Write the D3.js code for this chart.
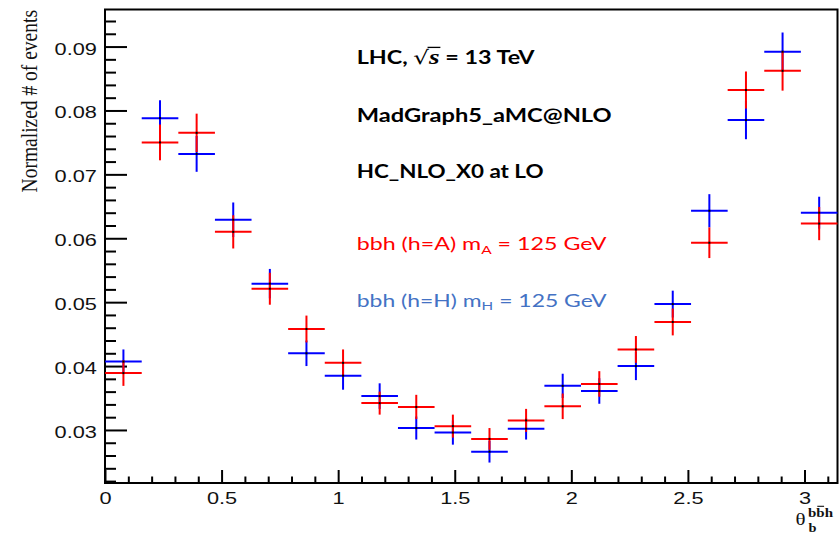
<!DOCTYPE html>
<html><head><meta charset="utf-8">
<script src="https://cdn.jsdelivr.net/npm/d3@7"></script>
<style>
  body { margin: 0; background: #fff; }
  svg { display: block; }
</style>
</head><body>
<svg id="chart" width="839" height="534"></svg>
<script>
// Bin centres of the opening angle theta_b^{bb̄h}: 20 equal bins over [0, π]
const thetaCenters = [0.079, 0.236, 0.393, 0.550, 0.707, 0.864, 1.021, 1.178, 1.335, 1.492,
                      1.649, 1.806, 1.963, 2.120, 2.277, 2.435, 2.592, 2.749, 2.906, 3.063];
const binHalfWidth = 0.0785;

// bbh with h = A (pseudoscalar), normalized counts and statistical errors
const countsA = [0.0389, 0.0750, 0.0765, 0.0610, 0.0521, 0.0458, 0.0405, 0.0342, 0.0336, 0.0306,
                 0.0286, 0.0315, 0.0337, 0.0372, 0.0426, 0.0469, 0.0593, 0.0832, 0.0862, 0.0623];
const errorsA = [0.0020, 0.0028, 0.0030, 0.0026, 0.0025, 0.0021, 0.0021, 0.0018, 0.0019, 0.0018,
                 0.0017, 0.0018, 0.0020, 0.0020, 0.0021, 0.0021, 0.0024, 0.0029, 0.0031, 0.0026];

// bbh with h = H (scalar), normalized counts and statistical errors
const countsH = [0.0407, 0.0788, 0.0732, 0.0629, 0.0529, 0.0420, 0.0385, 0.0353, 0.0303, 0.0296,
                 0.0266, 0.0302, 0.0369, 0.0361, 0.0400, 0.0497, 0.0643, 0.0785, 0.0892, 0.0640];
const errorsH = [0.0019, 0.0028, 0.0028, 0.0027, 0.0023, 0.0020, 0.0022, 0.0020, 0.0018, 0.0019,
                 0.0017, 0.0017, 0.0019, 0.0020, 0.0022, 0.0021, 0.0026, 0.0030, 0.0030, 0.0025];

// Axis ticks
const xTickValues = [0, 0.5, 1, 1.5, 2, 2.5, 3];
const xTickLabels = ["0", "0.5", "1", "1.5", "2", "2.5", "3"];
const yTickValues = [0.03, 0.04, 0.05, 0.06, 0.07, 0.08, 0.09];
const yTickLabels = ["0.03", "0.04", "0.05", "0.06", "0.07", "0.08", "0.09"];

const xDomain = [0, Math.PI];
const yDomain = [0.0217, 0.0958];

const svg = d3.select("#chart");
const frame = { left: 105, right: 837.5, top: 9.5, bottom: 483 };

const x = d3.scaleLinear().domain(xDomain).range([frame.left, frame.right]);
const y = d3.scaleLinear().domain(yDomain).range([frame.bottom, frame.top]);

const xMinor = d3.range(1, 32).map(i => +(i * 0.1).toFixed(1)).filter(v => !xTickValues.includes(v) && v < Math.PI);
const yMinor = d3.range(11, 48).map(i => +(i * 0.002).toFixed(3)).filter(v => !yTickValues.includes(v) && v > yDomain[0] && v < yDomain[1]);

const tickFont = "'Liberation Sans', Arial, sans-serif";
const labelStretch = 1.28;

// ---- Y axis (ticks point into the frame) ----
const yMinorAxis = d3.axisLeft(y).tickValues(yMinor).tickFormat("").tickSizeInner(-11).tickSizeOuter(0);
svg.append("g").attr("transform", `translate(${frame.left},0)`).call(yMinorAxis)
  .call(g => g.select(".domain").remove())
  .call(g => g.selectAll("line").attr("stroke", "#000").attr("stroke-width", 2));

const yAxis = d3.axisLeft(y).tickValues(yTickValues)
  .tickFormat((d, i) => yTickLabels[i]).tickSizeInner(-22).tickSizeOuter(0).tickPadding(6.3);
svg.append("g").attr("transform", `translate(${frame.left},0)`).call(yAxis)
  .call(g => g.select(".domain").remove())
  .call(g => g.selectAll("line").attr("stroke", "#000").attr("stroke-width", 2))
  .call(g => g.selectAll("text")
    .attr("fill", "#111").attr("font-family", tickFont).attr("font-size", 17)
    .attr("dy", "0.44em")
    .attr("transform", `scale(${labelStretch},1)`));

// ---- X axis ----
const xMinorAxis = d3.axisBottom(x).tickValues(xMinor).tickFormat("").tickSizeInner(-6.5).tickSizeOuter(0);
svg.append("g").attr("transform", `translate(0,${frame.bottom})`).call(xMinorAxis)
  .call(g => g.select(".domain").remove())
  .call(g => g.selectAll("line").attr("stroke", "#000").attr("stroke-width", 2));

const xAxis = d3.axisBottom(x).tickValues(xTickValues)
  .tickFormat((d, i) => xTickLabels[i]).tickSizeInner(-13).tickSizeOuter(0);
svg.append("g").attr("transform", `translate(0,${frame.bottom})`).call(xAxis)
  .call(g => g.select(".domain").remove())
  .call(g => g.selectAll("line").attr("stroke", "#000").attr("stroke-width", 2))
  .call(g => g.selectAll("text")
    .attr("fill", "#111").attr("font-family", tickFont).attr("font-size", 17)
    .attr("y", 21).attr("dy", 0)
    .attr("transform", `scale(${labelStretch},1)`));

// ---- Frame ----
svg.append("rect")
  .attr("x", frame.left).attr("y", frame.top)
  .attr("width", frame.right - frame.left).attr("height", frame.bottom - frame.top)
  .attr("fill", "none").attr("stroke", "#000").attr("stroke-width", 2);

// ---- Data: histogram points with bin-width and error bars ----
const series = [
  { name: "H", values: countsH, errors: errorsH, color: "#0000ff" },
  { name: "A", values: countsA, errors: errorsA, color: "#ff0000" }
];

const plot = svg.append("g");
series.forEach(s => {
  const rows = thetaCenters.map((c, i) => ({ c, v: s.values[i], e: s.errors[i] }));
  const g = plot.append("g").attr("class", "series-" + s.name)
    .attr("stroke", s.color).attr("stroke-width", 2);
  g.selectAll("line.hbar").data(rows).join("line").attr("class", "hbar")
    .attr("x1", d => x(d.c - binHalfWidth)).attr("x2", d => x(d.c + binHalfWidth))
    .attr("y1", d => y(d.v)).attr("y2", d => y(d.v));
  g.selectAll("line.vbar").data(rows).join("line").attr("class", "vbar")
    .attr("x1", d => x(d.c)).attr("x2", d => x(d.c))
    .attr("y1", d => y(d.v - d.e)).attr("y2", d => y(d.v + d.e));
});
series.forEach(s => {
  plot.append("g").selectAll("rect").data(thetaCenters.map((c, i) => ({ c, v: s.values[i] })))
    .join("rect")
    .attr("x", d => x(d.c) - 1).attr("y", d => y(d.v) - 1)
    .attr("width", 2).attr("height", 2).attr("fill", "#000");
});

// ---- Axis titles ----
const yTitle = svg.append("text")
  .attr("transform", "translate(36.5,10) rotate(-90) scale(1,1.15)")
  .attr("text-anchor", "end")
  .attr("font-family", "'Liberation Serif', 'Times New Roman', serif")
  .attr("font-size", 19.5).attr("fill", "#111")
  .text("Normalized # of events");

const serif = "'Liberation Serif', 'Times New Roman', serif";
const xTitle = svg.append("g").attr("fill", "#111");
xTitle.append("text")
  .attr("transform", "translate(795.5,525) scale(1.2,1)")
  .attr("font-family", serif).attr("font-size", 17.5).text("θ");
const sup = xTitle.append("text")
  .attr("transform", "translate(808,516.5) scale(1.2,1)")
  .attr("font-family", serif).attr("font-size", 12.5).attr("font-weight", "bold").text("bbh");
xTitle.append("text")
  .attr("transform", "translate(808.5,532) scale(1.2,1)")
  .attr("font-family", serif).attr("font-size", 12).attr("font-weight", "bold").text("b");
{
  const ext = sup.node().getExtentOfChar(1);
  svg.append("line")
    .attr("transform", "translate(808,516.5) scale(1.2,1)")
    .attr("x1", ext.x + 0.8).attr("x2", ext.x + ext.width - 0.5)
    .attr("y1", -10.2).attr("y2", -10.2)
    .attr("stroke", "#111").attr("stroke-width", 1.1);
}

// ---- Annotation block ----
const annFont = "Lato, 'Open Sans', sans-serif";
const annX = 356.7;

function annotation(baseline, width, color, bold, build) {
  const g = svg.append("g");
  const t = g.append("text")
    .attr("font-family", annFont).attr("font-size", 18)
    .attr("font-weight", bold ? "bold" : "normal").attr("fill", color);
  build(t, g);
  const w = t.node().getComputedTextLength();
  g.attr("transform", `translate(${annX},${baseline}) scale(${width / w},1)`);
  return { g, t };
}

annotation(64, 178, "#000", true, (t, g) => {
  t.append("tspan").text("LHC, ");
  t.append("tspan").attr("font-weight", "normal").attr("font-family", "'DejaVu Sans', sans-serif")
    .attr("font-size", 19).text("√");
  t.append("tspan").attr("font-style", "italic").attr("font-family", serif).attr("font-size", 21).text("s");
  t.append("tspan").text(" = 13 TeV");
  // vinculum over the s
  const r = t.node().getExtentOfChar(5);
  const s = t.node().getExtentOfChar(6);
  g.append("line")
    .attr("x1", r.x + r.width - 1.2).attr("x2", s.x + s.width + 0.5)
    .attr("y1", -16.6).attr("y2", -16.6)
    .attr("stroke", "#000").attr("stroke-width", 1.3);
});

annotation(121.5, 255, "#000", true, t => t.text("MadGraph5_aMC@NLO"));
annotation(177.5, 187, "#000", true, t => t.text("HC_NLO_X0 at LO"));

annotation(250, 250, "#ff0000", false, t => {
  t.append("tspan").text("bbh (h=A) m");
  t.append("tspan").attr("font-size", 12).attr("dy", 3.5).text("A");
  t.append("tspan").attr("dy", -3.5).text(" = 125 GeV");
});
annotation(306.7, 250, "#4472c4", false, t => {
  t.append("tspan").text("bbh (h=H) m");
  t.append("tspan").attr("font-size", 12).attr("dy", 3.5).text("H");
  t.append("tspan").attr("dy", -3.5).text(" = 125 GeV");
});
</script>
</body></html>
